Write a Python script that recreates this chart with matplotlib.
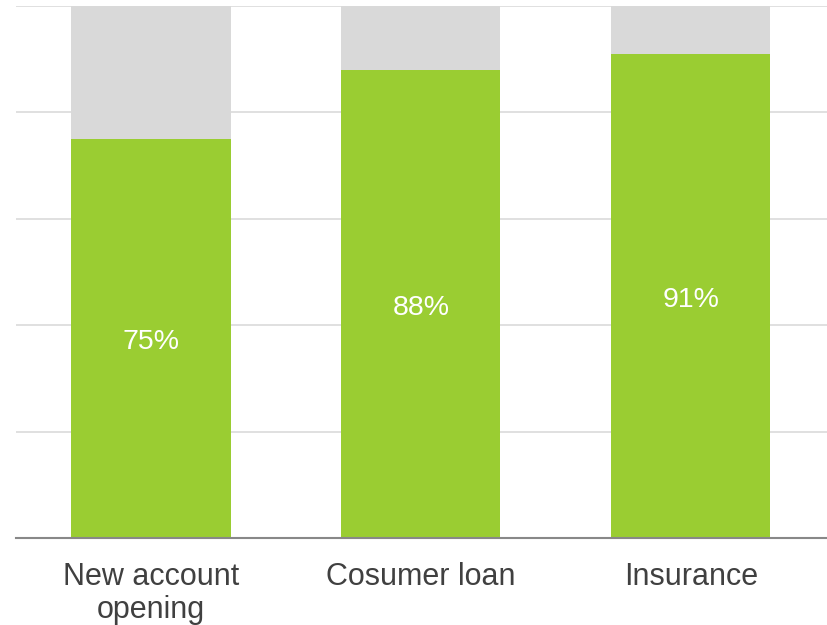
import matplotlib
matplotlib.use("Agg")
import matplotlib.pyplot as plt
import numpy as np

categories = ["New account\nopening", "Cosumer loan", "Insurance"]
values = [75, 88, 91]
totals = [100, 100, 100]
value_labels = ["75%", "88%", "91%"]

plt.rcParams['font.family'] = ['Liberation Sans', 'DejaVu Sans']

fig = plt.figure(figsize=(8.27, 6.25), dpi=100)
ax = fig.add_axes([16/827, 1-538/625, 1-16/827, (538-6)/625])

x = np.arange(len(categories))
rest = [t - v for t, v in zip(totals, values)]
w = 0.59
ax.bar(x, values, width=w, color="#9acd32", zorder=3)
ax.bar(x, rest, bottom=values, width=w, color="#d9d9d9", zorder=3)

for xi, v, lab in zip(x, values, value_labels):
    ax.text(xi, v/2 - 0.7, lab, ha="center", va="center", color="white", fontsize=20.5, zorder=4)

ax.set_xlim(-0.5, 2.505)
ax.set_ylim(0, 100)
ax.set_yticks([20, 40, 60, 80, 100])
ax.yaxis.grid(True, color="#dddddd", linewidth=1.3, zorder=0)
ax.tick_params(axis='y', left=False, labelleft=False)
ax.tick_params(axis='x', bottom=False, labelsize=22, labelcolor="#404040", pad=14)
ax.set_xticks(x)
ax.set_xticklabels(categories, linespacing=1.13)
for s in ["top", "right", "left"]:
    ax.spines[s].set_visible(False)
ax.spines["bottom"].set_color("#888888")
ax.spines["bottom"].set_linewidth(1.5)
ax.spines["bottom"].set_zorder(5)

fig.savefig("out.png", dpi=100)
